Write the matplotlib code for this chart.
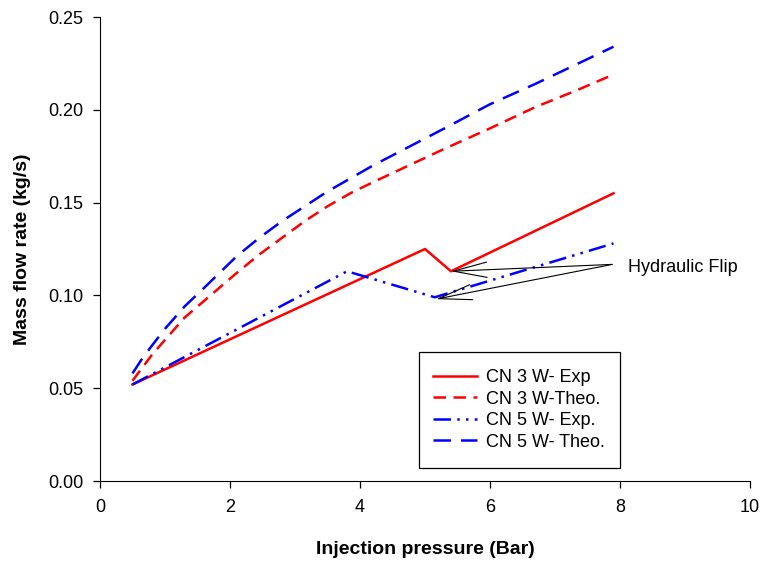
import matplotlib
matplotlib.use("Agg")
import matplotlib.pyplot as plt
from matplotlib.patches import Rectangle

plt.rcParams['font.family'] = ['Liberation Sans', 'DejaVu Sans']

# experimental series
cn3_exp_x = [0.5, 5.0, 5.4, 7.9]
cn3_exp_y = [0.052, 0.125, 0.113, 0.155]
cn5_exp_x = [0.5, 3.8, 5.15, 7.9]
cn5_exp_y = [0.052, 0.113, 0.099, 0.128]

# theoretical series
theo_x = [0.5, 0.65, 0.8, 1.0, 1.3, 1.6, 2.1, 2.45, 2.8, 3.15, 3.5, 3.85, 4.2,
          4.75, 5.3, 6.0, 6.7, 7.3, 7.9]
cn3_theo_y = [0.054, 0.061, 0.068, 0.076, 0.088, 0.097, 0.112, 0.122, 0.131, 0.140,
              0.148, 0.155, 0.161, 0.170, 0.179, 0.190, 0.2015, 0.210, 0.219]
cn5_theo_y = [0.058, 0.066, 0.073, 0.082, 0.094, 0.104, 0.121, 0.131, 0.140, 0.148,
              0.156, 0.163, 0.170, 0.180, 0.190, 0.203, 0.214, 0.224, 0.234]

fig = plt.figure(figsize=(7.6, 5.61), dpi=100)
ax = fig.add_axes([100 / 760, 1 - 481 / 561, 650 / 760, 464 / 561])

lw = 1.8
ax.plot(cn3_exp_x, cn3_exp_y, color='red', linewidth=lw, label='CN 3 W- Exp')
ax.plot(theo_x, cn3_theo_y, color='red', linewidth=lw, dashes=(5, 3), label='CN 3 W-Theo.')
ax.plot(cn5_exp_x, cn5_exp_y, color='blue', linewidth=lw,
        dashes=(7, 2.5, 1, 2.5, 1, 2.5), label='CN 5 W- Exp.')
ax.plot(theo_x, cn5_theo_y, color='blue', linewidth=lw, dashes=(7, 4), label='CN 5 W- Theo.')

arrow = dict(arrowstyle='->,head_length=2.4,head_width=0.55', color='black',
             linewidth=0.8, shrinkA=0, shrinkB=0)
ax.annotate('', xy=(5.4, 0.113), xytext=(7.88, 0.1167), arrowprops=arrow)
ax.annotate('', xy=(5.17, 0.098), xytext=(7.88, 0.1167), arrowprops=arrow)
ax.text(8.12, 0.115, 'Hydraulic Flip', fontsize=13, va='center', ha='left')

ax.set_xlim(0, 10)
ax.set_ylim(0, 0.25)
ax.set_xticks([0, 2, 4, 6, 8, 10])
ax.set_yticks([0, 0.05, 0.10, 0.15, 0.20, 0.25])
ax.set_yticklabels(['0.00', '0.05', '0.10', '0.15', '0.20', '0.25'])
ax.tick_params(labelsize=13, direction='out', length=5, width=0.9)
ax.tick_params(axis='y', pad=7)
ax.tick_params(axis='x', pad=8)
ax.spines['top'].set_visible(False)
ax.spines['right'].set_visible(False)

ax.set_xlabel('Injection pressure (Bar)', fontsize=14, fontweight='bold', labelpad=18)
ax.set_ylabel('Mass flow rate (kg/s)', fontsize=14, fontweight='bold', labelpad=12)

# legend box drawn by hand, entries placed inside it
ax.add_patch(Rectangle((0.491, 0.028), 0.309, 0.25, transform=ax.transAxes,
                       fill=False, edgecolor='black', linewidth=0.9, zorder=5))
leg = ax.legend(loc='center', bbox_to_anchor=(0.645, 0.153), fontsize=13,
                frameon=False, handlelength=2.4, handletextpad=0.55,
                labelspacing=0.25, borderpad=0)

fig.savefig('out.png', dpi=100)
